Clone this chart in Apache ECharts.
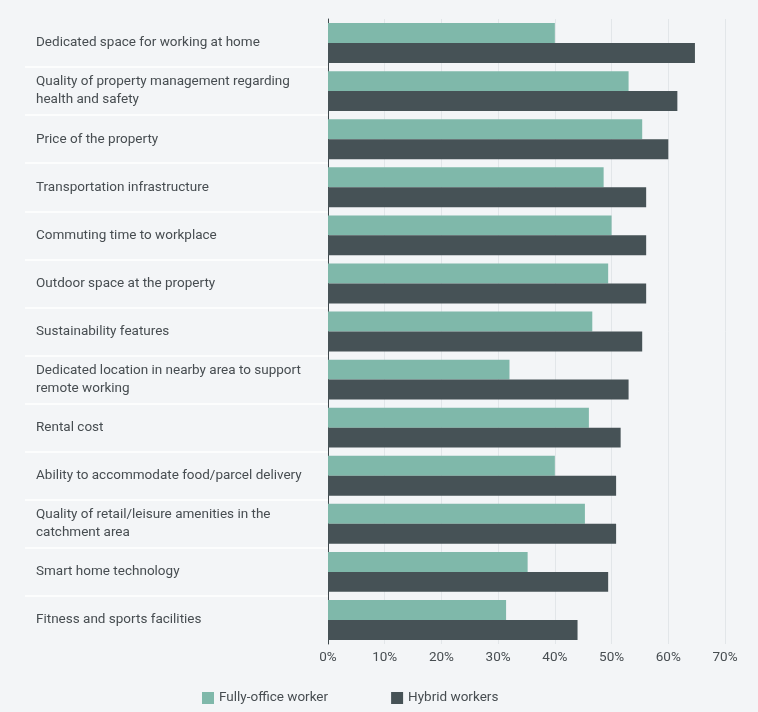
<!DOCTYPE html>
<html>
<head>
<meta charset="utf-8">
<script src="https://cdn.jsdelivr.net/npm/echarts@6/dist/echarts.min.js"></script>
<style>
  html, body { margin: 0; padding: 0; background: #f3f5f7; }
  #chart { width: 758px; height: 712px; }
</style>
</head>
<body>
<div id="chart"></div>
<script>
// factors, top to bottom
const categories = [
  'Dedicated space for working at home',
  'Quality of property management regarding\nhealth and safety',
  'Price of the property',
  'Transportation infrastructure',
  'Commuting time to workplace',
  'Outdoor space at the property',
  'Sustainability features',
  'Dedicated location in nearby area to support\nremote working',
  'Rental cost',
  'Ability to accommodate food/parcel delivery',
  'Quality of retail/leisure amenities in the\ncatchment area',
  'Smart home technology',
  'Fitness and sports facilities'
]
const officeWorkers = [40, 53, 55.4, 48.6, 50, 49.4, 46.6, 32, 46, 40, 45.3, 35.2, 31.4]
const hybridWorkers = [64.7, 61.6, 60, 56.1, 56.1, 56.1, 55.4, 53, 51.6, 50.8, 50.8, 49.4, 44]
const xTicks = [0, 10, 20, 30, 40, 50, 60, 70]

const textColor = '#474d51'
const font = 'Roboto, "Noto Sans", sans-serif'

const chart = echarts.init(document.getElementById('chart'))

chart.setOption({
  backgroundColor: '#f3f5f7',
  animation: false,
  color: ['#7fb8aa', '#465256'],
  textStyle: { fontFamily: font },
  grid: [
    { left: 328, right: 33, top: 19, bottom: 68 },
    // label column, only used for the white row separators
    { left: 25, width: 303, top: 19, bottom: 68 }
  ],
  legend: {
    left: 197,
    top: 686,
    itemWidth: 12,
    itemHeight: 12,
    itemGap: 63,
    icon: 'rect',
    textStyle: { color: textColor, fontSize: 13.5, fontFamily: font }
  },
  xAxis: [
    {
      type: 'value',
      min: xTicks[0],
      max: xTicks[xTicks.length - 1],
      interval: 10,
      axisLine: { show: false },
      axisTick: { show: false },
      axisLabel: {
        color: textColor, fontSize: 13.5, margin: 7,
        formatter: v => v + '%'
      },
      splitLine: { lineStyle: { color: '#e2e6e9', width: 1 } }
    },
    { type: 'value', gridIndex: 1, show: false }
  ],
  yAxis: [
    {
      type: 'category',
      inverse: true,
      data: categories,
      axisLine: { lineStyle: { color: '#3e484c', width: 1 } },
      axisTick: { show: false },
      axisLabel: {
        align: 'left', margin: 292, color: textColor,
        fontSize: 13.5, lineHeight: 18
      }
    },
    {
      type: 'category',
      gridIndex: 1,
      inverse: true,
      data: categories,
      axisLine: { show: false },
      axisTick: { show: false },
      axisLabel: { show: false },
      splitLine: {
        show: true, showMinLine: false, showMaxLine: false,
        lineStyle: { color: '#ffffff', width: 1.5 }
      }
    }
  ],
  series: [
    {
      name: 'Fully-office worker',
      type: 'bar',
      data: officeWorkers,
      barGap: '0%',
      barCategoryGap: '17%'
    },
    {
      name: 'Hybrid workers',
      type: 'bar',
      data: hybridWorkers,
      barGap: '0%',
      barCategoryGap: '17%'
    }
  ]
})
</script>
</body>
</html>
